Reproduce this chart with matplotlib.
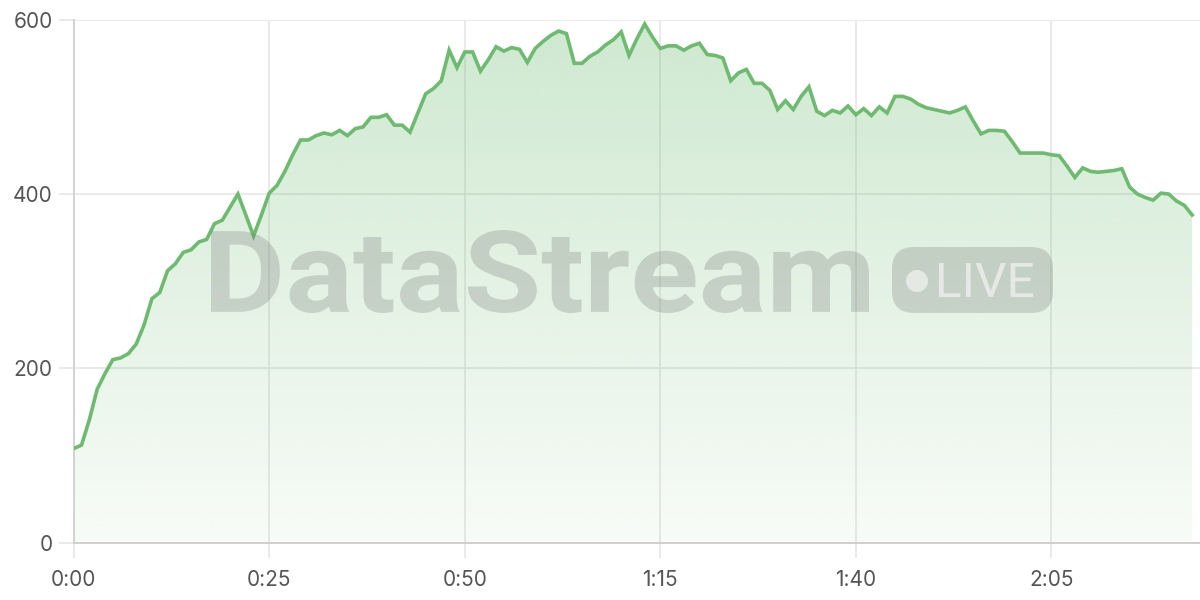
import numpy as np
import matplotlib
matplotlib.use("Agg")
import matplotlib.pyplot as plt
from matplotlib.patches import FancyBboxPatch, Circle, PathPatch
from matplotlib.transforms import IdentityTransform, Affine2D
from matplotlib.textpath import TextPath
from matplotlib.font_manager import FontProperties
from matplotlib.ticker import FuncFormatter

# one reading per second, 0:00 .. 2:23
seconds = list(range(144))
values = [108, 112, 141, 176, 194, 210, 212, 217, 228, 250,
          280, 287, 312, 320, 333, 336, 345, 348, 366, 370,
          385, 400, 376, 352, 376, 401, 410, 426, 445, 462,
          462, 467, 470, 468, 473, 467, 475, 477, 488, 488,
          491, 479, 479, 471, 493, 515, 521, 530, 565, 545,
          563, 563, 541, 554, 569, 564, 568, 566, 551, 567,
          575, 582, 587, 584, 550, 550, 558, 563, 571, 577,
          586, 559, 578, 595, 580, 567, 570, 570, 565, 570,
          573, 560, 559, 556, 530, 539, 543, 527, 527, 519,
          497, 507, 497, 512, 523, 495, 490, 496, 493, 501,
          491, 498, 490, 500, 493, 512, 512, 509, 503, 499,
          497, 495, 493, 496, 500, 484, 469, 473, 473, 472,
          460, 447, 447, 447, 447, 445, 444, 432, 419, 430,
          426, 425, 426, 427, 429, 408, 400, 396, 393, 401,
          400, 392, 387, 376]
x_ticks = [0, 25, 50, 75, 100, 125]
y_ticks = [0, 200, 400, 600]

LINE = "#6cbb6f"
GRID = "#e6e6e6"
TXT = "#555555"

plt.rcParams['font.family'] = ['Inter', 'DejaVu Sans']

fig = plt.figure(figsize=(12, 6), dpi=100)
ax = fig.add_axes([73.7 / 1200, 57.3 / 600, 1 - 73.7 / 1200, (542.7 - 19.7) / 600])
ax.set_xlim(0, 144)
ax.set_ylim(0, 600)

# gradient under the line, clipped to the area polygon
poly = ax.fill_between(seconds, values, 0, facecolor="none", edgecolor="none")
rgb = matplotlib.colors.to_rgb(LINE)
grad = np.zeros((256, 1, 4))
grad[:, 0, :3] = rgb
grad[:, 0, 3] = np.linspace(0.05, 0.33, 256)
im = ax.imshow(grad, extent=[0, 144, 0, 600], aspect="auto", origin="lower",
               zorder=1, interpolation="bilinear")
im.set_clip_path(poly.get_paths()[0], transform=ax.transData)

ax.plot(seconds, values, color=LINE, lw=2.6, zorder=3, solid_joinstyle="miter")

ax.set_xticks(x_ticks)
ax.set_yticks(y_ticks)
ax.xaxis.set_major_formatter(FuncFormatter(lambda v, p: f"{int(v) // 60}:{int(v) % 60:02d}"))
ax.grid(True, color=GRID, lw=1.2, zorder=0)
ax.set_axisbelow(True)
for s in ["top", "right"]:
    ax.spines[s].set_visible(False)
ax.spines["left"].set_color("#d0d0d0")
ax.spines["bottom"].set_color("#cccccc")
ax.spines["left"].set_linewidth(1.3)
ax.spines["bottom"].set_linewidth(1.3)
ax.tick_params(axis="x", length=11, width=1.2, color=GRID, pad=9,
               labelsize=15, labelcolor=TXT)
ax.tick_params(axis="y", length=11, width=1.2, color=GRID, pad=4,
               labelsize=15, labelcolor=TXT)

# watermark, text path stretched into the box it fills in the reference
wm_gray = "#767676"
tp = TextPath((0, 0), "DataStream", size=100,
              prop=FontProperties(family="Roboto", weight="bold"))
ext = tp.get_extents()
sx = (869 - 211) / ext.width
sy = (313 - 230) / ext.height
tr = Affine2D().translate(-ext.x0, -ext.y0).scale(sx, sy).translate(211, 600 - 313)
wm = PathPatch(tr.transform_path(tp), transform=IdentityTransform(),
               facecolor=wm_gray, edgecolor="none", alpha=0.27, zorder=10)
fig.patches.append(wm)

pill = FancyBboxPatch((892 + 22, 287 + 22), 161 - 44, 66 - 44,
                      boxstyle="round,pad=22,rounding_size=22",
                      transform=IdentityTransform(), facecolor=wm_gray,
                      edgecolor="none", alpha=0.27, zorder=10)
fig.patches.append(pill)
dot = Circle((917, 319), 11, transform=IdentityTransform(),
             facecolor="white", edgecolor="none", alpha=0.55, zorder=11)
fig.patches.append(dot)
lp = TextPath((0, 0), "LIVE", size=100, prop=FontProperties(family="Roboto"))
le = lp.get_extents()
ltr = Affine2D().translate(-le.x0, -le.y0).scale((1033 - 939) / le.width,
                                                 (297 - 263) / le.height).translate(939, 600 - 297)
live = PathPatch(ltr.transform_path(lp), transform=IdentityTransform(),
                 facecolor="white", edgecolor="none", alpha=0.55, zorder=11)
fig.patches.append(live)

fig.savefig("out.png", dpi=100)
